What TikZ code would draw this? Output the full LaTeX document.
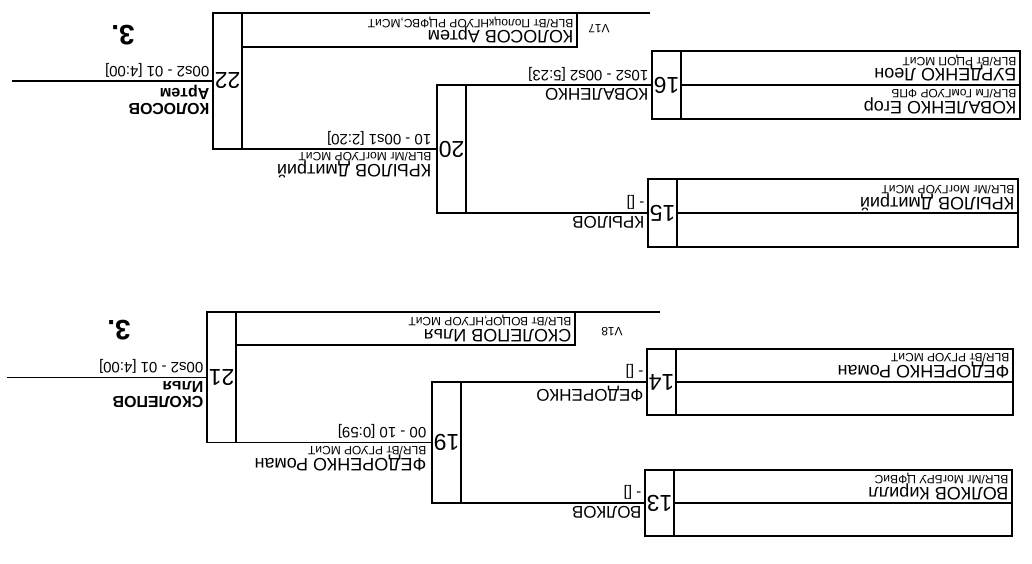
\documentclass[tikz,border=0pt]{standalone}
\usepackage{fontspec}
\setmainfont{Liberation Sans}
\usepackage{graphicx}
\usetikzlibrary{positioning}

\newcommand\plname{\fontsize{9}{9}\selectfont}
\newcommand\plclub{\fontsize{6}{6}\selectfont}
\newcommand\upside[1]{\rotatebox[origin=c]{180}{#1}}
% name over club, tight
\newcommand\pl[2]{\vbox{\baselineskip=5.9pt\lineskiplimit=-20pt\hbox{\plname #1}\hbox{\plclub #2}}}
\newcommand\fin[2]{\vbox{\baselineskip=7.6pt\lineskiplimit=-20pt\hbox{#1}\hbox{#2}}}

\begin{document}
\begin{tikzpicture}[
  x=0.5pt, y=-0.5pt,
  line width=0.7pt,
  cell/.style={draw, minimum width=14.5pt, inner sep=0pt, outer sep=0pt, font=\fontsize{11.5}{11.5}\selectfont},
  entry/.style={draw, inner sep=0pt, outer sep=0pt, minimum height=34pt},
  who/.style={rotate=180, anchor=west, inner sep=0pt},
  winner/.style={rotate=180, anchor=south west, inner sep=0pt, font=\fontsize{8.5}{9}\selectfont},
  score/.style={rotate=180, anchor=north west, inner sep=0pt, font=\fontsize{7.5}{8}\selectfont},
  final/.style={winner, font=\bfseries\fontsize{8}{9}\selectfont},
  rank/.style={rotate=180, inner sep=0pt, font=\bfseries\fontsize{14}{14}\selectfont},
  seed/.style={rotate=180, inner sep=0pt, font=\fontsize{6}{6}\selectfont}
]
\useasboundingbox (0,0) rectangle (1032,563);

% upper half
\node[cell, minimum height=68pt] (n22) at (227.5,81) {\upside{22}};
\node[cell, minimum height=64pt] (n20) at (451.5,149) {\upside{20}};
\node[cell, minimum height=34pt] (n16) at (666.5,85) {\upside{16}};
\node[cell, minimum height=34pt] (n15) at (662.5,213) {\upside{15}};
\node[entry, right=0pt of n16, minimum width=169.5pt] (p16) {};
\node[entry, right=0pt of n15, minimum width=170.5pt] (p15) {};
\node[entry, below right=0pt of n22.north east, minimum width=167.5pt, minimum height=17pt] (p17) {};
\coordinate (top17) at (650,13);
\draw (p17.north east) -- (top17);
\draw (p16.west) -- (p16.east);
\draw (p15.west) -- (p15.east);

\node[who] (t16a) at ([shift={(-1.5pt,-8.5pt)}]p16.north east) {\pl{БУРДЕНКО Леон}{BLR/Вт РЦОП МСиТ}};
\node[who] (t16b) at ([shift={(-1.5pt,8.5pt)}]p16.south east) {\pl{КОВАЛЕНКО Егор}{BLR/Гм ГомГУОР ФПБ}};
\node[who] (t15a) at ([shift={(-1.5pt,-9.5pt)}]p15.north east) {\pl{КРЫЛОВ Дмитрий}{BLR/Мг МогГУОР МСиТ}};
\node[who] (t17) at ([xshift=-1.5pt]p17.east) {\pl{КОЛОСОВ Артем}{BLR/Вт ПолоцкНГУОР РЦФВС,МСиТ}};
\node[seed] (v17) at (599,29) {V17};

\coordinate (end22) at (12,81);
\draw (n16.west) -- (n20.north east);
\draw (n15.west) -- (n20.south east);
\draw (n20.west) -- (n22.south east);
\draw (n22.west) -- (end22);

\node[winner] (w16) at ([shift={(-1.5pt,-1.5pt)}]n16.west) {КОВАЛЕНКО};
\node[score] (s16) at ([shift={(-1.5pt,1.5pt)}]n16.west) {10s2 - 00s2 [5:23]};
\node[winner] (w15) at ([shift={(-1.5pt,-1.5pt)}]n15.west) {КРЫЛОВ};
\node[score] (s15) at ([shift={(-1.5pt,1.5pt)}]n15.west) {- []};
\node[winner] (w20) at ([shift={(-2.5pt,-1.5pt)}]n20.west) {\pl{КРЫЛОВ Дмитрий}{BLR/Мг МогГУОР МСиТ}};
\node[score] (s20) at ([shift={(-2.5pt,1.5pt)}]n20.west) {10 - 00s1 [2:20]};
\node[final] (w22) at ([shift={(-1.5pt,-1.5pt)}]n22.west) {\fin{КОЛОСОВ}{Артем}};
\node[score] (s22) at ([shift={(-1.5pt,1.5pt)}]n22.west) {00s2 - 01 [4:00]};
\node[rank] (r22) at (123,35) {3.};

% lower half
\node[cell, minimum height=65.25pt] (n21) at (221.5,377.25) {\upside{21}};
\node[cell, minimum height=60.5pt] (n19) at (446.5,442.5) {\upside{19}};
\node[cell, minimum height=33pt] (n14) at (661.5,382) {\upside{14}};
\node[cell, minimum height=33pt] (n13) at (659.5,503) {\upside{13}};
\node[entry, right=0pt of n14, minimum width=168.5pt, minimum height=33pt] (p14) {};
\node[entry, right=0pt of n13, minimum width=169pt, minimum height=33pt] (p13) {};
\node[entry, below right=0pt of n21.north east, minimum width=169.5pt, minimum height=16.5pt] (p18) {};
\coordinate (top18) at (660,312);
\draw (p18.north east) -- (top18);
\draw (p14.west) -- (p14.east);
\draw (p13.west) -- (p13.east);

\node[who] (t14a) at ([shift={(-1.5pt,-8.25pt)}]p14.north east) {\pl{ФЕДОРЕНКО Роман}{BLR/Вт РГУОР МСиТ}};
\node[who] (t13a) at ([shift={(-1.5pt,-8.25pt)}]p13.north east) {\pl{ВОЛКОВ Кирилл}{BLR/Мг МогБРУ ЦФВиС}};
\node[who] (t18) at ([xshift=-1.5pt]p18.east) {\pl{СКОЛЕПОВ Илья}{BLR/Вт ВОЦОР,НГУОР МСиТ}};
\node[seed] (v18) at (612,332) {V18};

\coordinate (end21) at (7,377.25);
\draw (n14.west) -- (n19.north east);
\draw (n13.west) -- (n19.south east);
\draw (n19.west) -- (n21.south east);
\draw (n21.west) -- (end21);

\node[winner] (w14) at ([shift={(-1.5pt,-1.5pt)}]n14.west) {ФЕДОРЕНКО};
\node[score] (s14) at ([shift={(-1.5pt,1.5pt)}]n14.west) {- []};
\node[winner] (w13) at ([shift={(-1.5pt,-1.5pt)}]n13.west) {ВОЛКОВ};
\node[score] (s13) at ([shift={(-1.5pt,1.5pt)}]n13.west) {- []};
\node[winner] (w19) at ([shift={(-2.5pt,-1.5pt)}]n19.west) {\pl{ФЕДОРЕНКО Роман}{BLR/Вт РГУОР МСиТ}};
\node[score] (s19) at ([shift={(-2.5pt,1.5pt)}]n19.west) {00 - 10 [0:59]};
\node[final] (w21) at ([shift={(-1.5pt,-1.5pt)}]n21.west) {\fin{СКОЛЕПОВ}{Илья}};
\node[score] (s21) at ([shift={(-1.5pt,1.5pt)}]n21.west) {00s2 - 01 [4:00]};
\node[rank] (r21) at (119,330) {3.};

\end{tikzpicture}
\end{document}
